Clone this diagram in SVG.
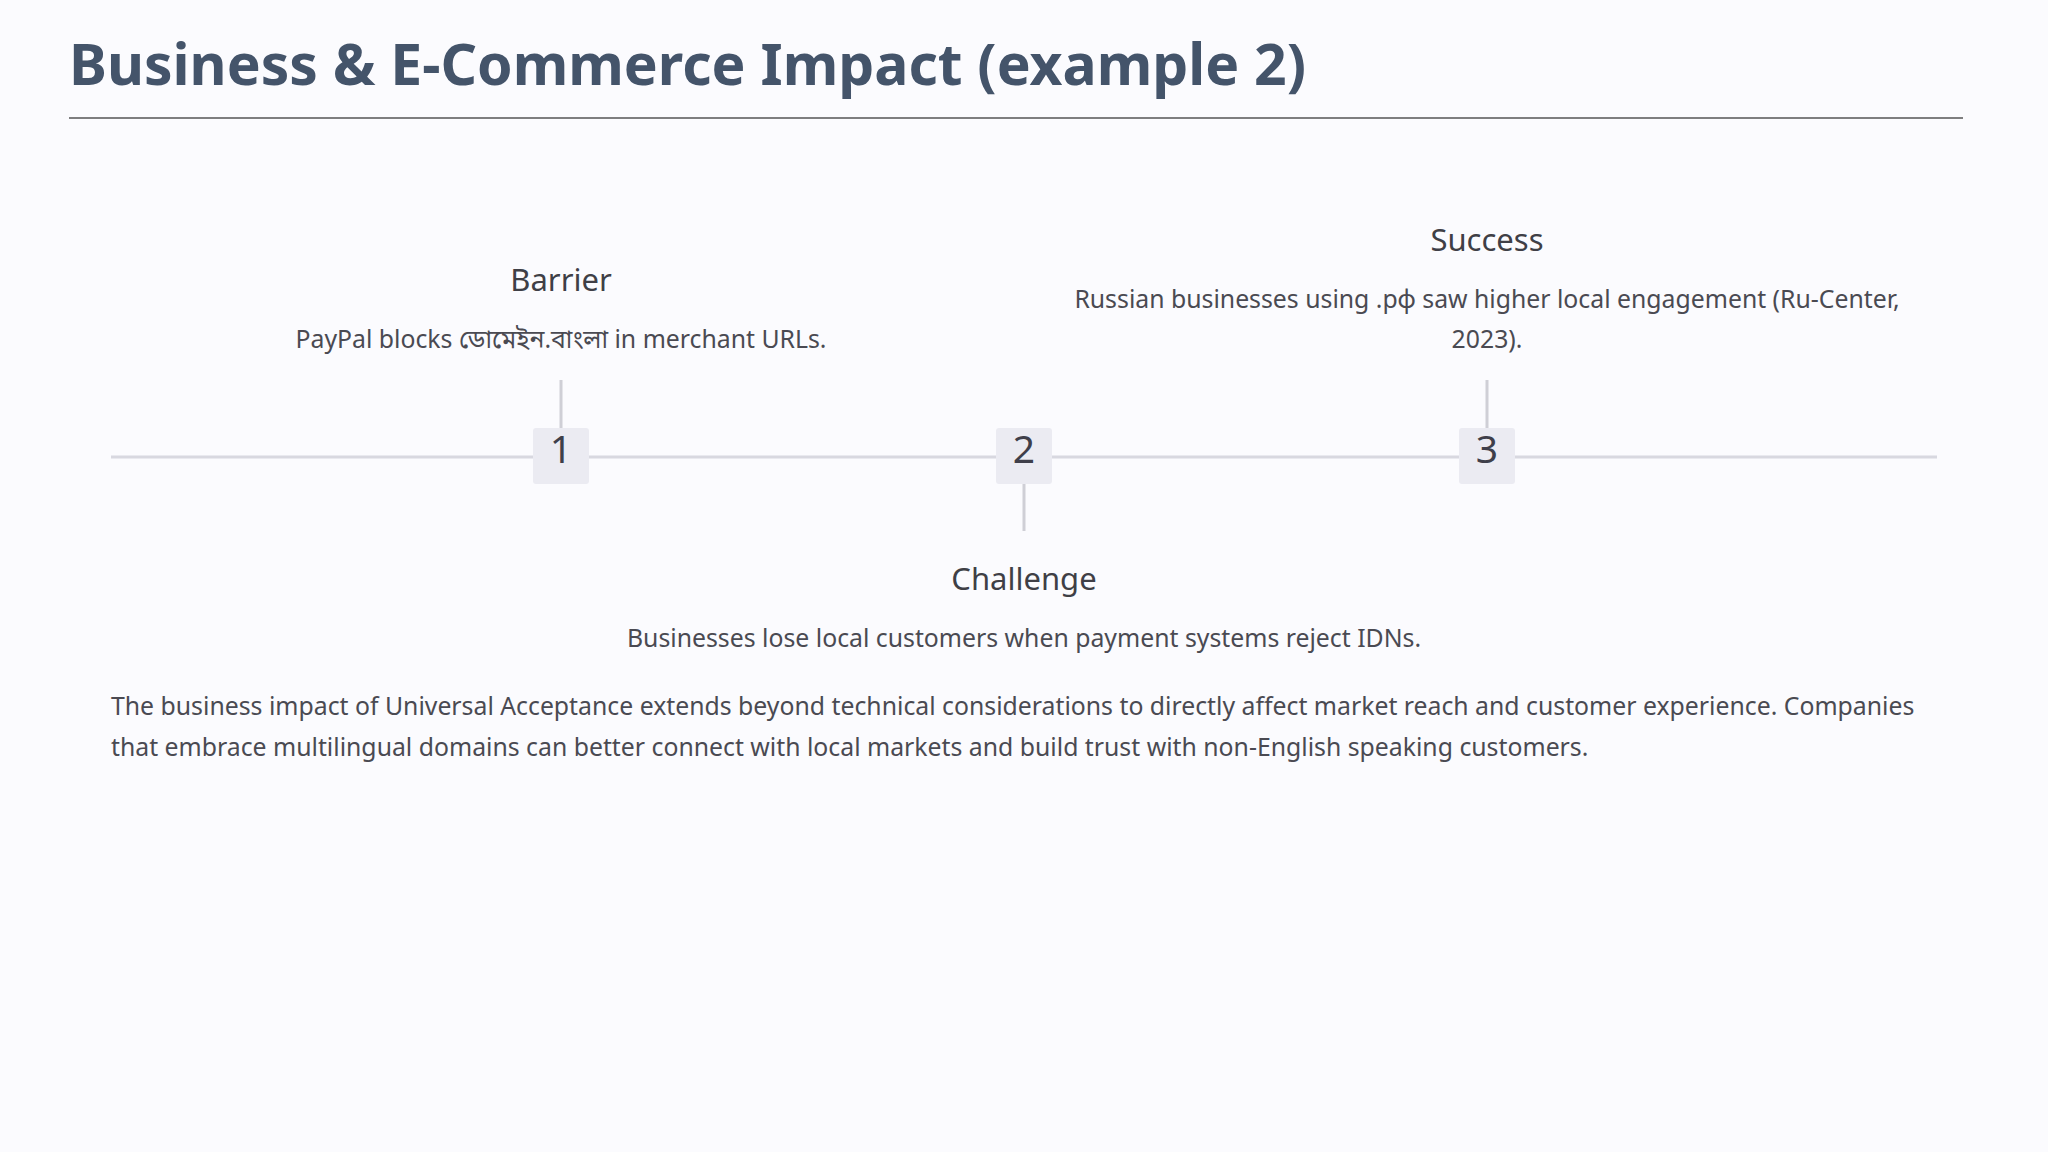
<svg xmlns="http://www.w3.org/2000/svg" width="2048" height="1152" viewBox="0 0 2048 1152">
<style>
text{font-family:"Noto Sans","Open Sans","Noto Sans Bengali",sans-serif;fill:#3f3f46}
.h{font-size:31px;text-anchor:middle}
.d{font-size:24.8px;text-anchor:middle;fill:#4a4a52}
.n{font-size:39px;text-anchor:middle;fill:#3f3f4a}
.box{fill:#ebebf2}
.tick{stroke:#cfcfd6;stroke-width:3}
</style>
<rect width="2048" height="1152" fill="#fbfbfe"/>
<text x="69" y="85" style="font-size:57px;font-weight:bold;fill:#44546a">Business &amp; E-Commerce Impact (example 2)</text>
<line x1="69" y1="118" x2="1963" y2="118" stroke="#555" stroke-width="1.5"/>
<g id="connectors">
<line x1="111" y1="457" x2="1937" y2="457" stroke="#d8d8e0" stroke-width="3"/>
<line class="tick" x1="561" y1="380" x2="561" y2="428"/>
<line class="tick" x1="1024" y1="484" x2="1024" y2="531"/>
<line class="tick" x1="1487" y1="380" x2="1487" y2="428"/>
</g>
<g id="node1">
<rect class="box" x="533" y="428" width="56" height="56" rx="3"/>
<text class="n" x="561" y="463">1</text>
<text class="h" x="561" y="291">Barrier</text>
<text class="d" x="561" y="348">PayPal blocks ডোমেইন.বাংলা in merchant URLs.</text>
</g>
<g id="node2">
<rect class="box" x="996" y="428" width="56" height="56" rx="3"/>
<text class="n" x="1024" y="463">2</text>
<text class="h" x="1024" y="590">Challenge</text>
<text class="d" x="1024" y="647">Businesses lose local customers when payment systems reject IDNs.</text>
</g>
<g id="node3">
<rect class="box" x="1459" y="428" width="56" height="56" rx="3"/>
<text class="n" x="1487" y="463">3</text>
<text class="h" x="1487" y="251">Success</text>
<text class="d" x="1487" y="308">Russian businesses using .рф saw higher local engagement (Ru-Center,</text>
<text class="d" x="1487" y="348">2023).</text>
</g>
<text x="111" y="715" style="font-size:24.8px;fill:#4a4a52">The business impact of Universal Acceptance extends beyond technical considerations to directly affect market reach and customer experience. Companies</text>
<text x="111" y="756" style="font-size:24.8px;fill:#4a4a52">that embrace multilingual domains can better connect with local markets and build trust with non-English speaking customers.</text>
</svg>
